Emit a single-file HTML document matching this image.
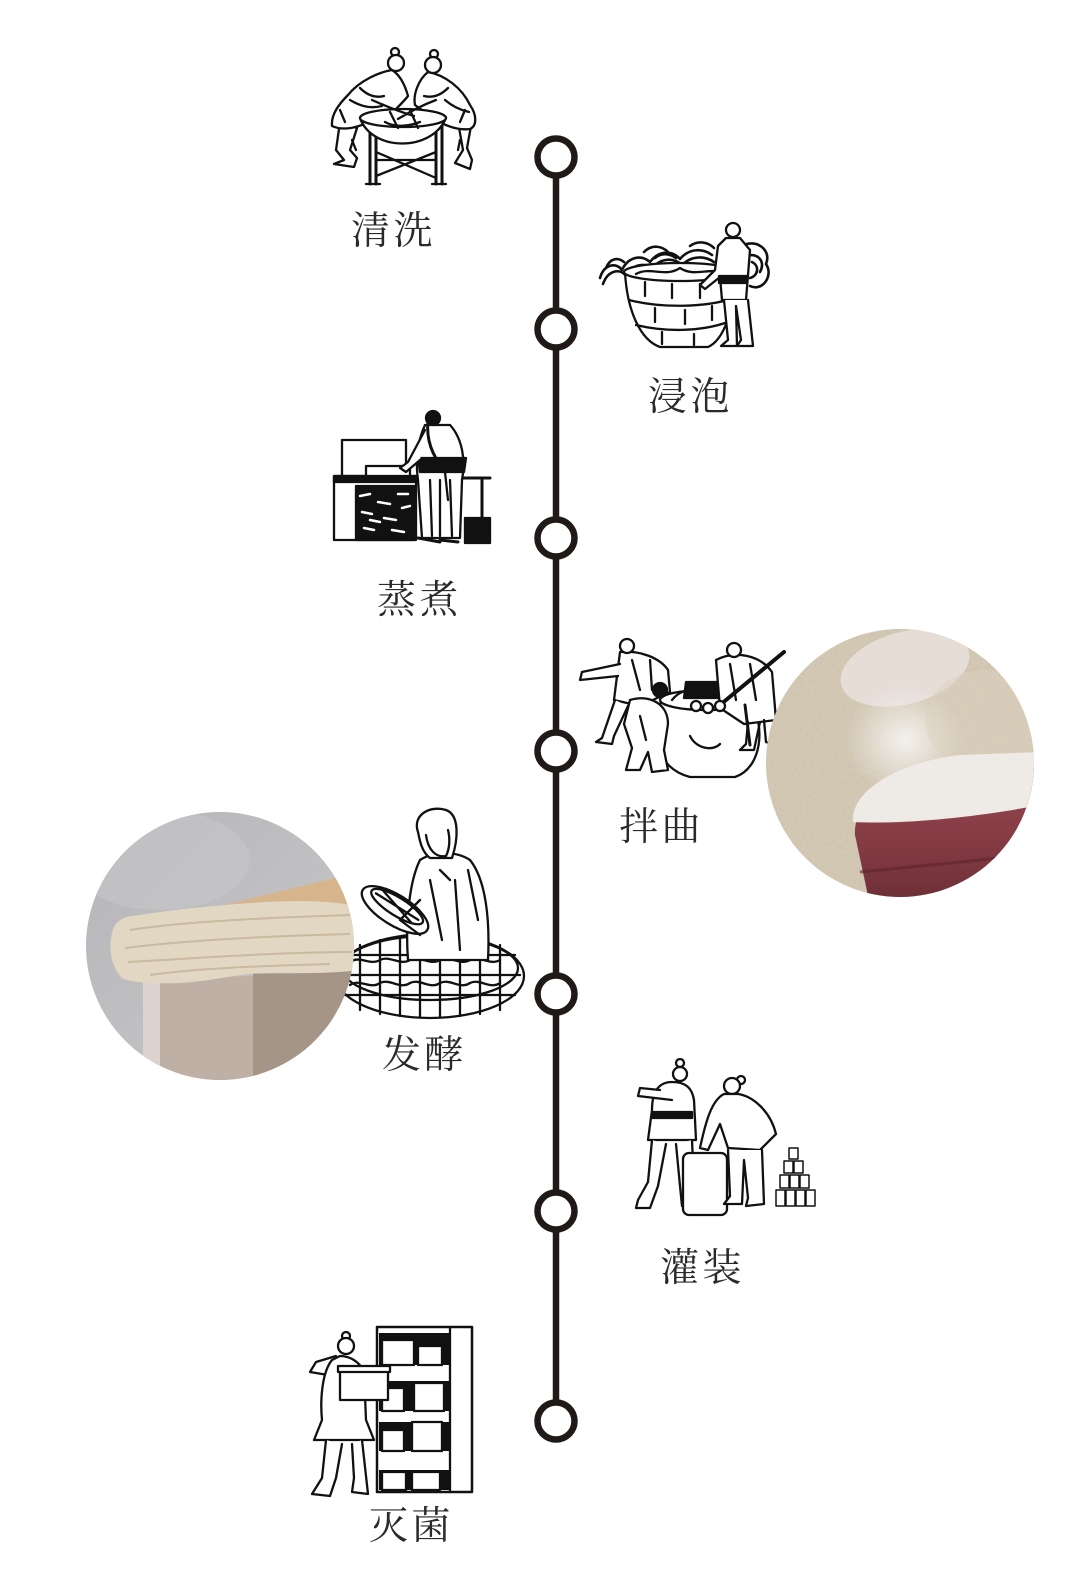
<!DOCTYPE html>
<html><head><meta charset="utf-8"><style>
html,body{margin:0;padding:0;background:#fff;}
svg{display:block;}
.t{font-family:"Liberation Serif","Noto Serif CJK SC",serif;font-size:39px;fill:#2a2a2a;letter-spacing:3.5px;}
</style></head><body>
<svg width="1080" height="1580" viewBox="0 0 1080 1580" xmlns="http://www.w3.org/2000/svg">
<defs>
<clipPath id="cr"><circle cx="900" cy="763" r="134"/></clipPath>
<clipPath id="cl"><circle cx="220" cy="946" r="134"/></clipPath>
<radialGradient id="flour" cx="0.5" cy="0.5" r="0.5"><stop offset="0" stop-color="#f3f1ee"/><stop offset="1" stop-color="#f3f1ee" stop-opacity="0"/></radialGradient>
<linearGradient id="bowl" x1="0" y1="0" x2="0" y2="1"><stop offset="0" stop-color="#9a4a52"/><stop offset="0.6" stop-color="#833a43"/><stop offset="1" stop-color="#6c2e35"/></linearGradient>
<linearGradient id="gbg" x1="0" y1="0" x2="1" y2="1"><stop offset="0" stop-color="#b4b4b8"/><stop offset="1" stop-color="#cbcbcd"/></linearGradient>
<filter id="grain" x="0" y="0" width="1" height="1"><feTurbulence type="fractalNoise" baseFrequency="0.35" numOctaves="2" seed="3"/><feColorMatrix type="matrix" values="0 0 0 0 0.55 0 0 0 0 0.5 0 0 0 0 0.42 0 0 0 1.6 -0.7"/></filter>
</defs>
<rect width="1080" height="1580" fill="#fff"/>

<!-- timeline -->
<line x1="556" y1="157" x2="556" y2="1421" stroke="#1f1a17" stroke-width="6.5"/>
<g fill="#fff" stroke="#1f1a17" stroke-width="6.5">
<circle cx="556" cy="157" r="18.5"/><circle cx="556" cy="329" r="18.5"/><circle cx="556" cy="538" r="18.5"/><circle cx="556" cy="751" r="18.5"/><circle cx="556" cy="994" r="18.5"/><circle cx="556" cy="1211" r="18.5"/><circle cx="556" cy="1421" r="18.5"/>
</g>

<g stroke="#111" stroke-width="2.3" fill="#fff" stroke-linejoin="round" stroke-linecap="round">
<!-- 1 清洗 -->
<path d="M340 122 L336 150 L344 160 L334 164 L354 167 L357 158 L350 150 L357 128 Z"/>
<path d="M458 122 L463 150 L455 163 L470 169 L472 160 L467 148 L471 126 Z"/>
<path d="M370 120 L370 184 M376 122 L376 184 M436 122 L436 184 M442 120 L442 184" fill="none" stroke-width="3"/>
<path d="M376 176 L436 152 M376 152 L436 178 M376 160 L436 160 M366 184 L380 184 M432 184 L446 184" fill="none"/>
<path d="M392 70 C380 72 360 80 348 95 C338 105 331 115 332 126 C345 132 362 126 375 119 L395 110 C400 105 405 100 408 96 C405 85 400 75 392 70 Z"/>
<path d="M428 72 C445 75 462 88 470 105 C477 115 477 126 470 129 C455 131 440 123 430 116 L415 105 C413 95 418 80 428 72 Z"/>
<path d="M360 118 C372 152 432 152 446 118 Z"/>
<ellipse cx="403" cy="118" rx="43" ry="9"/>
<path d="M372 100 C390 108 400 112 414 116 M436 100 C420 106 410 112 398 119 M350 100 C360 106 370 109 382 106 M445 100 C452 106 460 110 469 112 M385 122 C395 128 410 126 420 122 M340 110 L345 122 M465 110 L460 122 M360 88 C368 96 376 98 384 96 M448 88 C440 96 432 98 424 96 M390 112 L398 128 M410 110 L418 128 M352 140 L356 150 M460 140 L458 150" fill="none"/>
<circle cx="395" cy="52" r="4"/><circle cx="396" cy="63" r="8"/>
<circle cx="434" cy="54" r="4"/><circle cx="433" cy="65" r="8"/>

<!-- 2 浸泡 -->
<g fill="none" stroke-width="2.6">
<path d="M600 278 C604 264 616 262 622 270 C628 257 641 254 650 262 C660 249 673 251 680 259 C690 247 704 249 712 255"/>
<path d="M603 284 C608 270 620 268 626 276 C632 265 643 262 652 268 C662 257 674 258 682 265 C692 255 705 256 714 262"/>
<path d="M606 268 C610 258 618 257 624 262 M644 252 C652 244 662 246 668 252 M690 246 C698 240 708 242 714 248 M655 258 C662 252 670 254 676 258"/>
<path d="M742 246 C756 238 772 250 766 264 C774 276 762 292 750 286 M746 256 C758 252 766 262 760 272 M752 262 C760 266 758 276 750 278"/>
</g>
<path d="M625 272 C627 310 640 340 660 347 L708 347 C724 340 734 310 736 272 Z"/>
<ellipse cx="680" cy="272" rx="56" ry="9"/>
<path d="M629 300 C660 308 705 308 734 298 M636 325 C665 332 700 332 728 322 M645 282 L645 296 M672 284 L672 298 M700 284 L700 298 M655 308 L655 322 M685 310 L685 324 M712 306 L712 320 M662 332 L662 344 M694 334 L694 345 M636 274 C650 266 665 278 680 268 C695 278 710 266 726 274" fill="none"/>
<circle cx="733" cy="230" r="7"/>
<path d="M726 238 L718 246 L715 270 L700 285 L705 289 L720 277 L722 300 L746 300 L750 250 L740 238 Z"/>
<rect x="719" y="276" width="28" height="7" fill="#111"/>
<path d="M724 300 L728 340 L721 346 L737 346 L736 306 L741 340 L737 346 L753 346 L748 300"/>

<!-- 3 蒸煮 -->
<rect x="342" y="440" width="64" height="38"/>
<rect x="334" y="476" width="82" height="64"/>
<rect x="334" y="476" width="86" height="6" fill="#111"/>
<rect x="356" y="486" width="58" height="54" fill="#111"/>
<path d="M360 496 L370 494 M378 502 L390 504 M362 512 L372 514 M384 518 L396 520 M364 528 L374 530 M392 530 L404 532 M398 494 L408 494 M402 508 L410 506 M370 520 L380 522" stroke="#fff" stroke-width="2.5" fill="none"/>
<path d="M366 466 L410 466 L410 476 L366 476 Z"/>
<path d="M455 478 L490 478 M482 480 L482 530" fill="none" stroke-width="3"/>
<rect x="465" y="518" width="25" height="25" fill="#111"/>
<path d="M425 425 C418 440 415 460 418 480 L422 538 L460 538 L462 480 C466 460 462 438 450 425 Z"/>
<path d="M418 458 L466 458 L464 472 L420 472 Z" fill="#111"/>
<path d="M425 430 L408 462 L400 468 L406 472 L420 460" />
<path d="M440 480 L440 536 M430 480 L432 536 M450 480 L452 536 M445 472 L448 500" fill="none"/>
<path d="M418 538 L440 542 M440 540 L458 542" fill="none" stroke-width="3"/>
<circle cx="433" cy="418" r="7" fill="#111"/>
<path d="M428 420 C426 440 432 455 444 470" fill="none" stroke-width="3"/>

<!-- 4 拌曲 -->
<path d="M662 700 C648 730 655 768 690 777 L735 777 C762 768 766 726 750 700 Z"/>
<ellipse cx="706" cy="700" rx="46" ry="10"/>
<path d="M686 682 L722 682 L726 698 L684 698 Z" fill="#111"/>
<path d="M620 652 C640 650 660 658 668 670 L670 692 L640 706 L614 700 Z"/>
<path d="M620 664 L582 672 L580 680 L618 676" />
<path d="M615 700 L602 738 L596 742 L612 744 L614 736 L628 706" />
<circle cx="627" cy="646" r="7"/>
<path d="M630 700 C650 694 668 704 668 724 L664 750 L668 770 L652 772 L648 752 L640 770 L626 770 L632 748 L624 724 Z"/>
<circle cx="660" cy="690" r="7" fill="#111"/>
<path d="M716 660 C735 650 760 655 772 672 L776 720 L744 724 L720 708 Z"/>
<circle cx="734" cy="650" r="7"/>
<path d="M720 705 L784 652" fill="none" stroke-width="4"/>
<path d="M748 722 L746 744 L740 750 L754 750 L760 722 M764 720 L766 742 L772 744" fill="none"/>
<path d="M690 736 C696 748 712 752 720 744 M672 700 C680 690 690 688 698 694 M632 660 L640 690 M650 660 L652 690 M730 664 L736 700 M750 664 L756 700 M640 716 L646 740" fill="none"/>
<path d="M745 705 L750 745" fill="none" stroke-width="3"/>
<circle cx="696" cy="706" r="5"/><circle cx="708" cy="708" r="5"/><circle cx="720" cy="706" r="5"/>

<!-- 5 发酵 basket -->
<ellipse cx="430" cy="976" rx="94" ry="42"/>
<ellipse cx="430" cy="968" rx="88" ry="32" fill="none"/>
<path d="M345 955 L515 955 M340 975 L520 975 M345 995 L515 995 M360 945 L360 1010 M380 940 L380 1014 M400 938 L400 1016 M420 938 L420 1017 M440 938 L440 1017 M460 938 L460 1016 M480 940 L480 1014 M500 945 L500 1010" fill="none"/>
<path d="M350 962 C360 955 370 966 380 960 C390 955 400 966 410 960 C420 955 430 966 440 960 C450 955 460 966 470 960 C480 955 490 966 500 960 M350 985 C360 978 370 990 380 983 C390 978 400 990 410 983 C420 978 430 990 440 983 C450 978 460 990 470 983 C480 978 490 990 500 983" fill="none"/>
<path d="M420 860 C410 880 405 920 408 960 L488 960 C490 920 486 880 470 860 C455 850 432 852 420 860 Z"/>
<path d="M418 832 C412 815 430 805 446 810 C460 815 458 840 452 858 L430 858 C422 852 420 842 418 832 Z"/>
<path d="M426 835 C428 850 436 858 446 856 C450 848 450 838 448 830" fill="none"/>
<g transform="rotate(32 395 910)"><ellipse cx="395" cy="910" rx="38" ry="15"/><ellipse cx="395" cy="906" rx="30" ry="9" fill="none"/><path d="M370 906 L420 906 M375 900 L415 912" fill="none"/></g>
<path d="M430 880 L442 940 M455 880 L460 950 M420 900 L400 920 L420 935 M468 870 L478 920 M440 870 L450 880" fill="none"/>
</g>

<!-- 6 灌装 -->
<g stroke="#111" stroke-width="2.3" fill="#fff" stroke-linejoin="round" stroke-linecap="round">
<circle cx="680" cy="1063" r="4"/>
<circle cx="680" cy="1074" r="7"/>
<path d="M672 1082 C660 1082 652 1090 652 1110 L648 1140 L696 1140 L694 1100 C692 1088 686 1082 672 1082 Z"/>
<path d="M660 1090 L640 1088 L638 1096 L672 1100" />
<rect x="652" y="1112" width="40" height="6" fill="#111"/>
<path d="M652 1140 L648 1182 L638 1200 L636 1208 L650 1208 L658 1186 L666 1144 M676 1144 L680 1186 L682 1206 L698 1206 L694 1186 L692 1140" />
<rect x="683" y="1153" width="44" height="62" rx="6"/>
<circle cx="741" cy="1080" r="4"/>
<circle cx="732" cy="1086" r="8"/>
<path d="M724 1094 C712 1100 706 1120 700 1148 L708 1150 L720 1124 L728 1148 L760 1150 L776 1134 C770 1110 752 1096 738 1094 Z"/>
<path d="M728 1150 L730 1196 L724 1204 L742 1204 L744 1160 L748 1198 L746 1206 L764 1204 L762 1150" />
<g stroke-width="1.5">
<rect x="789" y="1148" width="9" height="11"/>
<rect x="784" y="1161" width="9" height="12"/><rect x="794" y="1161" width="9" height="12"/>
<rect x="780" y="1175" width="9" height="13"/><rect x="790" y="1175" width="9" height="13"/><rect x="800" y="1175" width="9" height="13"/>
<rect x="776" y="1190" width="9" height="16"/><rect x="786" y="1190" width="9" height="16"/><rect x="796" y="1190" width="9" height="16"/><rect x="806" y="1190" width="9" height="16"/>
</g>

<!-- 7 灭菌 -->
<rect x="377" y="1327" width="95" height="165" stroke-width="2.5"/>
<line x1="450" y1="1327" x2="450" y2="1492"/>
<rect x="379" y="1333" width="70" height="32" fill="#111" stroke="none"/>
<rect x="379" y="1381" width="70" height="30" fill="#111" stroke="none"/>
<rect x="379" y="1422" width="70" height="29" fill="#111" stroke="none"/>
<rect x="379" y="1470" width="70" height="20" fill="#111" stroke="none"/>
<rect x="382" y="1340" width="32" height="25"/><rect x="418" y="1346" width="24" height="19"/>
<rect x="382" y="1388" width="22" height="23"/><rect x="414" y="1383" width="30" height="28"/>
<rect x="382" y="1430" width="22" height="21"/><rect x="412" y="1422" width="30" height="29"/>
<rect x="382" y="1472" width="24" height="18"/><rect x="412" y="1472" width="28" height="18"/>
<circle cx="346" cy="1336" r="4"/>
<circle cx="346" cy="1346" r="8"/>
<path d="M336 1356 L316 1362 L310 1372 L334 1376 L338 1366" />
<path d="M332 1360 C322 1372 320 1400 322 1420 L314 1440 L374 1440 L366 1420 L364 1372 C360 1362 350 1356 340 1356 Z"/>
<rect x="340" y="1368" width="48" height="32"/>
<rect x="338" y="1366" width="52" height="6"/>
<path d="M326 1440 L322 1478 L312 1494 L330 1496 L336 1478 L342 1444 M352 1444 L354 1478 L352 1492 L368 1494 L366 1476 L362 1440" />
</g>

<!-- right photo -->
<g clip-path="url(#cr)">
<rect x="760" y="625" width="280" height="280" fill="#d3c8b3"/>
<rect x="760" y="625" width="280" height="280" filter="url(#grain)" opacity="0.6"/>
<ellipse cx="905" cy="668" rx="66" ry="36" fill="#e6ddd7" transform="rotate(-15 905 668)"/>
<ellipse cx="905" cy="740" rx="60" ry="55" fill="url(#flour)"/>
<ellipse cx="985" cy="720" rx="60" ry="50" fill="#dbd1c0" opacity="0.5"/>
<path d="M855 835 C852 800 900 775 960 765 L1040 760 L1040 905 L870 905 Z" fill="url(#bowl)"/>
<path d="M853 822 C850 790 900 762 960 755 L1040 752 L1040 805 C990 815 910 825 853 822 Z" fill="#eeeae5"/>
<path d="M860 872 C920 866 990 860 1040 852" stroke="#5e2329" stroke-width="3" fill="none" opacity="0.6"/>
</g>

<!-- left photo -->
<g clip-path="url(#cl)">
<rect x="80" y="805" width="280" height="280" fill="url(#gbg)"/>
<ellipse cx="160" cy="860" rx="90" ry="50" fill="#c6c6c9" opacity="0.6"/>
<path d="M195 912 L347 875 L360 880 L360 930 L200 930 Z" fill="#d6b58c"/>
<path d="M143 978 L253 976 L253 1085 L143 1085 Z" fill="#bfb0a6"/>
<path d="M143 978 L160 978 L160 1085 L143 1085 Z" fill="#dcd3cf"/>
<path d="M253 972 L360 968 L360 1085 L253 1085 Z" fill="#a59587"/>
<path d="M112 933 C115 918 128 916 140 915 C170 910 210 906 250 903 C290 900 330 900 355 906 L360 970 C320 975 280 972 247 974 C220 978 200 982 180 983 C150 984 128 982 122 978 C112 968 108 950 112 933 Z" fill="#e2d7c2"/>
<path d="M130 930 C180 922 260 918 350 915 M125 948 C190 940 270 936 350 934 M128 962 C200 958 280 952 352 952 M150 975 C200 968 260 966 330 964" stroke="#c9b99f" stroke-width="2" fill="none"/>
</g>

<!-- labels -->
<text class="t" x="351" y="244">清洗</text>
<text class="t" x="648" y="410">浸泡</text>
<text class="t" x="377" y="613">蒸煮</text>
<text class="t" x="619" y="840">拌曲</text>
<text class="t" x="382" y="1068">发酵</text>
<text class="t" x="660" y="1281">灌装</text>
<text class="t" x="369" y="1539">灭菌</text>
</svg>
</body></html>
